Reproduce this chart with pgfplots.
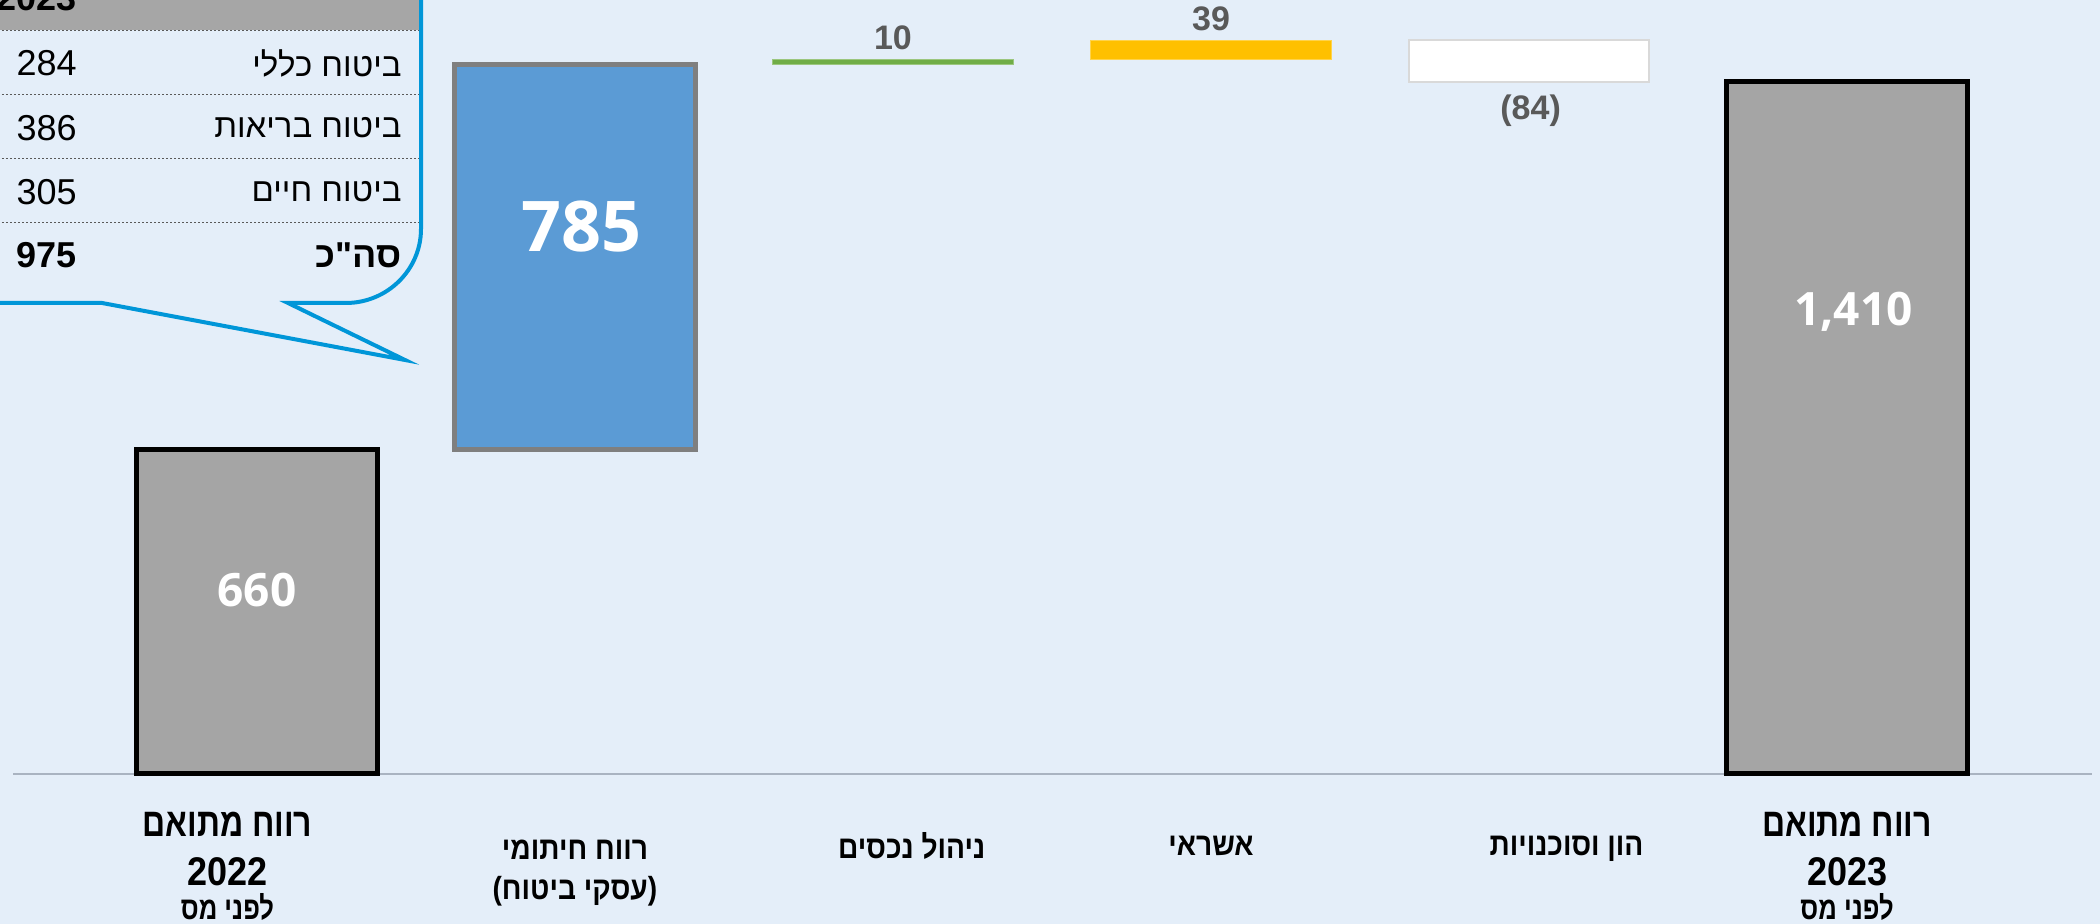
\documentclass[border=0pt]{standalone}
\usepackage{fontspec}
\setmainfont{Liberation Sans}
\newfontfamily\hebfont[Script=Hebrew]{Liberation Sans}
\newfontfamily\hebA[Script=Hebrew, FakeStretch=0.8]{Liberation Sans}
\newfontfamily\hebB[Script=Hebrew, FakeStretch=0.88]{Liberation Sans}
\newfontfamily\hebC[Script=Hebrew, FakeStretch=0.9]{Liberation Sans}
\newfontfamily\numfont{Open Sans}
\usepackage{pgfplots}
\usepackage{pgfplotstable}
\pgfplotsset{compat=1.18}
\TeXXeTstate=1
\definecolor{bg}{HTML}{E4EEF9}
\definecolor{bargray}{HTML}{A5A5A5}
\definecolor{barblue}{HTML}{5B9BD5}
\definecolor{bordgray}{HTML}{7F7F7F}
\definecolor{bargreen}{HTML}{70AD47}
\definecolor{baryellow}{HTML}{FFC000}
\definecolor{whiteedge}{HTML}{D9D9D9}
\definecolor{lblgray}{HTML}{595959}
\definecolor{callout}{HTML}{0096D8}
\definecolor{headgray}{HTML}{A6A6A6}
\definecolor{axisgray}{HTML}{A9B3C1}

\pgfplotstableread{
x base gray blue green yellow white
0 0    660  0   0  0  0
1 660  0    785 0  0  0
2 1445 0    0   10 0  0
3 1455 0    0   0  39 0
4 1410 0    0   0  0  84
5 0    1410 0   0  0  0
}\wf

\begin{document}
\begin{tikzpicture}
\useasboundingbox (0,0) rectangle (1050pt,462pt);
\clip (0,0) rectangle (1050pt,462pt);
\fill[bg] (0,0) rectangle (1050pt,462pt);

\begin{axis}[
  at={(6.5pt,75pt)}, anchor=south west,
  scale only axis, width=1039.5pt, height=387pt,
  xmin=-0.767, xmax=5.77, ymin=0, ymax=1576,
  ybar stacked, stacked ignores zero, bar width=0.757,
  axis x line=bottom, axis y line=none, ytick=\empty,
  x axis line style={-, draw=axisgray, line width=1pt},
  xtick={0,...,5}, major tick length=0,
  xticklabels={
    {\hebA\fontsize{20}{20}\selectfont\beginR רווח מתואם\endR\rule{29.4pt}{0pt}\\[4.8pt]\hebC\fontsize{20}{20}\selectfont 2022\rule{29.4pt}{0pt}\\[-3.4pt]\hebA\fontsize{16}{16}\selectfont\beginR לפני מס\endR\rule{29.4pt}{0pt}},
    {\rule{0pt}{17pt}\beginR רווח חיתומי\endR\\\beginR (עסקי ביטוח)\endR},
    {\rule{18.8pt}{0pt}\beginR ניהול נכסים\endR\\\mbox{}},
    {\beginR אשראי\endR\\\mbox{}},
    {\rule{37.5pt}{0pt}\beginR הון וסוכנויות\endR\\\mbox{}},
    {\hebA\fontsize{20}{20}\selectfont\beginR רווח מתואם\endR\\[4.8pt]\hebC\fontsize{20}{20}\selectfont 2023\\[-3.4pt]\hebA\fontsize{16}{16}\selectfont\beginR לפני מס\endR}
  },
  xticklabel style={anchor=center, yshift=-46pt, align=center,
    font=\hebB\bfseries\fontsize{16}{20}\selectfont, text=black},
  clip=false,
]
\addplot[draw=none, fill=none] table[x=x, y=base] {\wf};
\addplot[fill=bargray, draw=black, line width=2.5pt] table[x=x, y=gray] {\wf};
\addplot[fill=barblue, draw=bordgray, line width=2.5pt] table[x=x, y=blue] {\wf};
\addplot[fill=bargreen, draw=bargreen!70!white, line width=0.5pt] table[x=x, y=green] {\wf};
\addplot[fill=baryellow, draw=baryellow!70!white, line width=0.5pt] table[x=x, y=yellow] {\wf};
\addplot[fill=white, draw=whiteedge, line width=1pt] table[x=x, y=white] {\wf};

\coordinate (v0) at (axis cs:0,375);
\coordinate (v1) at (axis cs:1.021,1115);
\coordinate (v2) at (axis cs:2,1500);
\coordinate (v3) at (axis cs:3,1538);
\coordinate (v4) at (axis cs:4.005,1350);
\coordinate (v5) at (axis cs:5.02,941);
\end{axis}

\node[text=white, font=\numfont\bfseries\fontsize{23}{23}\selectfont] at (v0) {660};
\node[text=white, font=\numfont\bfseries\fontsize{35}{35}\selectfont] at (v1) {785};
\node[text=lblgray, font=\bfseries\fontsize{17}{17}\selectfont] at (v2) {10};
\node[text=lblgray, font=\bfseries\fontsize{17}{17}\selectfont] at (v3) {39};
\node[text=lblgray, font=\bfseries\fontsize{17}{17}\selectfont] at (v4) {(84)};
\node[text=white, font=\numfont\bfseries\fontsize{23}{23}\selectfont] at (v5) {1,410};

% callout (coordinates in reference pixels)
\begin{scope}[x=0.5pt, y=-0.5pt, shift={(0pt,462pt)}]
  \fill[headgray] (-10,-10) rectangle (420,30);
  \foreach \yy in {30,94,158,222}
    \draw[black!65, line width=0.4pt, dash pattern=on 1.2pt off 0.8pt] (-10,\yy) -- (420,\yy);
  \node[inner sep=0pt, anchor=base east, font=\bfseries\fontsize{18}{18}\selectfont] at (77,11) {2023};
  \node[inner sep=0pt, anchor=east, font=\hebfont\fontsize{16.5}{16.5}\selectfont] at (402,63) {\beginR ביטוח כללי\endR};
  \node[inner sep=0pt, anchor=east, font=\hebfont\fontsize{16.5}{16.5}\selectfont] at (402,128) {\beginR ביטוח בריאות\endR};
  \node[inner sep=0pt, anchor=east, font=\hebfont\fontsize{16.5}{16.5}\selectfont] at (402,192) {\beginR ביטוח חיים\endR};
  \node[inner sep=0pt, anchor=east, font=\hebfont\bfseries\fontsize{18}{18}\selectfont] at (402,255) {\beginR סה"כ\endR};
  \node[inner sep=0pt, anchor=east, font=\fontsize{18}{18}\selectfont] at (77,63) {284};
  \node[inner sep=0pt, anchor=east, font=\fontsize{18}{18}\selectfont] at (77,128) {386};
  \node[inner sep=0pt, anchor=east, font=\fontsize{18}{18}\selectfont] at (77,192) {305};
  \node[inner sep=0pt, anchor=east, font=\bfseries\fontsize{18}{18}\selectfont] at (77,255) {975};
  \draw[callout, line width=2pt, line join=miter]
    (-10,303) -- (102,303) -- (405,360) -- (288,303) -- (346,303)
    .. controls (387,303) and (421,270) .. (421,229) -- (421,-10);
\end{scope}
\end{tikzpicture}
\end{document}
